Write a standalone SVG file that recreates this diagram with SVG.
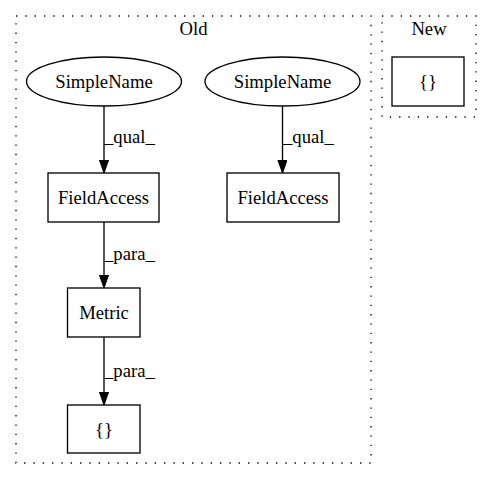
<svg xmlns="http://www.w3.org/2000/svg" width="491" height="480" viewBox="0 0 491 480">
<style>
text{font-family:"Liberation Serif","Times New Roman",serif;font-size:18.67px;fill:#000}
.c{text-anchor:middle}
.cl{fill:none;stroke:#000;stroke-width:1.33;stroke-dasharray:1.33,8}
.n{fill:#fff;stroke:#000;stroke-width:1.33}
.e{fill:none;stroke:#000;stroke-width:1.33}
</style>
<defs>
<marker id="ah" markerWidth="14" markerHeight="10" refX="13.3" refY="4.7" orient="auto" markerUnits="userSpaceOnUse">
<path d="M0,0 L13.3,4.7 L0,9.4 Z" fill="#000" stroke="#000" stroke-width="1"/>
</marker>
</defs>
<rect width="491" height="480" fill="#fff"/>
<g id="cluster_old">
<rect class="cl" x="16" y="16" width="355" height="447"/>
<text class="c" x="193.5" y="35">Old</text>
</g>
<g id="cluster_new">
<rect class="cl" x="382" y="16" width="94" height="101"/>
<text class="c" x="429" y="35">New</text>
</g>
<g id="connectors">
<path class="e" d="M104,106 V173" marker-end="url(#ah)"/>
<text x="104" y="143">_qual_</text>
<path class="e" d="M282.5,106 V173" marker-end="url(#ah)"/>
<text x="283" y="143">_qual_</text>
<path class="e" d="M104,222 V288" marker-end="url(#ah)"/>
<text x="104" y="260">_para_</text>
<path class="e" d="M104,337 V405" marker-end="url(#ah)"/>
<text x="104" y="377">_para_</text>
</g>
<g id="n_simplename1">
<ellipse class="n" cx="104" cy="81.5" rx="77.5" ry="24.5"/>
<text class="c" x="104" y="88">SimpleName</text>
</g>
<g id="n_simplename2">
<ellipse class="n" cx="282.5" cy="81.5" rx="77.5" ry="24.5"/>
<text class="c" x="282.5" y="88">SimpleName</text>
</g>
<g id="n_fieldaccess1">
<rect class="n" x="48" y="173" width="111" height="49"/>
<text class="c" x="103.5" y="204">FieldAccess</text>
</g>
<g id="n_fieldaccess2">
<rect class="n" x="227" y="173" width="112" height="49"/>
<text class="c" x="283" y="204">FieldAccess</text>
</g>
<g id="n_metric">
<rect class="n" x="67.5" y="288" width="72.5" height="49"/>
<text class="c" x="104" y="319">Metric</text>
</g>
<g id="n_block_old">
<rect class="n" x="67.5" y="405" width="72.5" height="48"/>
<text class="c" x="104" y="436">{}</text>
</g>
<g id="n_block_new">
<rect class="n" x="392" y="57" width="72" height="49"/>
<text class="c" x="428" y="88">{}</text>
</g>
</svg>
